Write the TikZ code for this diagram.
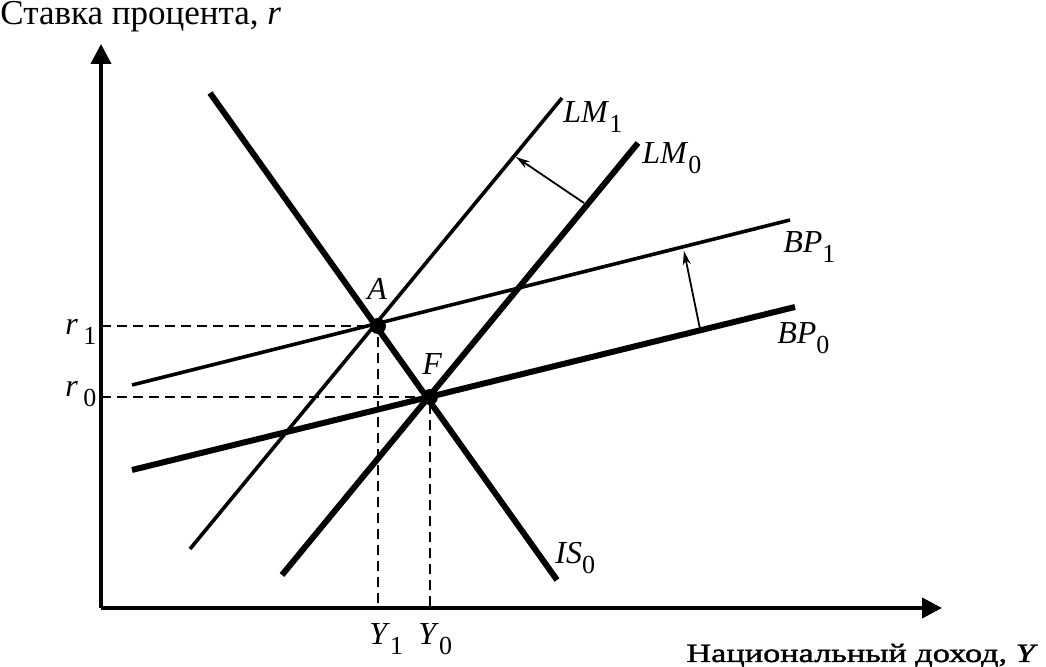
\documentclass[tikz,border=0pt]{standalone}
\usepackage{fontspec}
\setmainfont{Liberation Serif}
\newfontfamily\axisfont[FakeStretch=1.3,FakeBold=1.5]{Liberation Serif}
\usetikzlibrary{arrows.meta}
\newcommand{\lowidx}[1]{\raisebox{-5pt}{\fontsize{13}{14}\selectfont #1}}

\begin{document}
\begin{tikzpicture}[x=0.5pt,y=-0.5pt,font=\fontsize{16}{18}\selectfont,
    curvethick/.style={line width=3pt},
    curvethin/.style={line width=1.8pt},
    guide/.style={line width=0.9pt,dash pattern=on 5pt off 3pt},
    shiftarrow/.style={line width=0.9pt,-{Stealth[length=7pt,width=4pt]}},
    lbl/.style={inner sep=0pt,anchor=base west}]
            \useasboundingbox (0,0) rectangle (1046,667);
            % axes
            \coordinate (O) at (101,608);
            \coordinate (Ytop) at (101,44);
            \coordinate (Xend) at (942,608);
            \draw[line width=2pt,-{Triangle[length=10pt,width=10pt]}] (O) -- (Ytop);
            \draw[line width=2pt,-{Triangle[length=10pt,width=10pt]}] (O) -- (Xend);
            \node[lbl,font=\fontsize{17.5}{20}\selectfont] (ylab) at (0,25) {Ставка процента, \textit{r}};
            \node[lbl,font=\axisfont\fontsize{13.2}{15}\selectfont] (xlab) at (686,662) {Национальный доход, \textit{Y}};
            % equilibrium points
            \coordinate (A) at (378,326);
            \coordinate (F) at (430,397);
            \coordinate (r1) at (101,326);
            \coordinate (r0) at (101,397);
            \coordinate (Y1) at (378,608);
            \coordinate (Y0) at (430,608);
            \draw[guide] (r1) -- (A) -- (Y1);
            \draw[guide] (r0) -- (F) -- (Y0);
            % curves
            \coordinate (IS0a) at (210,93);
            \coordinate (IS0b) at (557,580);
            \coordinate (LM1a) at (190,549);
            \coordinate (LM1b) at (562,98);
            \coordinate (LM0a) at (282,575);
            \coordinate (LM0b) at (638,143);
            \coordinate (BP1a) at (132,385);
            \coordinate (BP1b) at (790,220);
            \coordinate (BP0a) at (132,470);
            \coordinate (BP0b) at (795,307);
            \draw[curvethin] (LM1a) -- (LM1b);
            \draw[curvethin] (BP1a) -- (BP1b);
            \draw[curvethick] (IS0a) -- (IS0b);
            \draw[curvethick] (LM0a) -- (LM0b);
            \draw[curvethick] (BP0a) -- (BP0b);
            % shifts
            \coordinate (LMfrom) at (584,203);
            \coordinate (LMto) at (516,157);
            \coordinate (BPfrom) at (700,329);
            \coordinate (BPto) at (684,251);
            \draw[shiftarrow] (LMfrom) -- (LMto);
            \draw[shiftarrow] (BPfrom) -- (BPto);
            \fill (A) circle (4pt);
            \fill (F) circle (4pt);
            % labels
            \node[lbl] (LM1lab) at (563,123) {\textit{LM}\lowidx{1}};
            \node[lbl] (LM0lab) at (642,164) {\textit{LM}\lowidx{0}};
            \node[lbl] (BP1lab) at (783,253) {\textit{BP}\lowidx{1}};
            \node[lbl] (BP0lab) at (777,344) {\textit{BP}\lowidx{0}};
            \node[lbl] (IS0lab) at (555,564) {\textit{IS}\lowidx{0}};
            \node[lbl] (Alab) at (367,300) {\textit{A}};
            \node[lbl] (Flab) at (422,375) {\textit{F}};
            \node[lbl] (r1lab) at (65,335) {\textit{r}\,\lowidx{1}};
            \node[lbl] (r0lab) at (65,397) {\textit{r}\,\lowidx{0}};
            \node[lbl] (Y1lab) at (369,645) {\textit{Y}\lowidx{1}};
            \node[lbl] (Y0lab) at (418,645) {\textit{Y}\lowidx{0}};
\end{tikzpicture}
\end{document}
